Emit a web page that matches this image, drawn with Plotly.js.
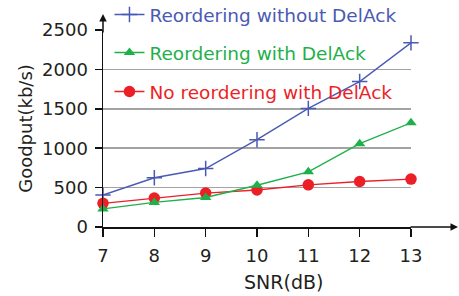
<!DOCTYPE html>
<html>
<head>
<meta charset="utf-8">
<script src="https://cdn.plot.ly/plotly-3.0.1.min.js"></script>
<style>html,body{margin:0;padding:0;background:#fff;}#chart{width:459px;height:296px;}</style>
</head>
<body>
<div id="chart"></div>
<script>
const snr = [7, 8, 9, 10, 11, 12, 13];
const reorderNoDelAck = [405, 625, 742, 1108, 1505, 1846, 2337];
const reorderDelAck = [230, 312, 375, 530, 700, 1057, 1322];
const noReorderDelAck = [300, 367, 430, 470, 535, 577, 608];
const yTicks = [0, 500, 1000, 1500, 2000, 2500];
const names = ["Reordering without DelAck", "Reordering with DelAck", "No reordering with DelAck"];

const BLUE = "#4a5ab3", GREEN = "#1fb04a", RED = "#ec1f27";
const FONT = "DejaVu Sans";

const traces = [
  {x: snr, y: reorderNoDelAck, name: names[0], mode: "lines+markers", legend: "legend",
   line: {color: BLUE, width: 1.4},
   marker: {symbol: "cross-thin", size: 11, line: {color: BLUE, width: 1.5}, color: BLUE},
   cliponaxis: false},
  {x: snr, y: noReorderDelAck, name: names[2], mode: "lines+markers", legend: "legend3",
   line: {color: RED, width: 1.4},
   marker: {symbol: "circle", size: 11.5, color: RED},
   cliponaxis: false},
  {x: snr, y: reorderDelAck, name: names[1], mode: "lines+markers", legend: "legend2",
   line: {color: GREEN, width: 1.4},
   marker: {symbol: "triangle-up", size: 10, color: GREEN},
   cliponaxis: false}
];

function leg(y, color) {
  return {x: 0.021, y: y, xanchor: "left", yanchor: "middle", bgcolor: "rgba(0,0,0,0)",
          borderwidth: 0, font: {family: FONT, size: 18.5, color: color}};
}

const layout = {
  width: 459, height: 296,
  margin: {l: 103, r: 48, t: 30, b: 69, autoexpand: false},
  paper_bgcolor: "#fff", plot_bgcolor: "#fff",
  font: {family: FONT, size: 18, color: "#231f20"},
  showlegend: true,
  legend: leg((227 - 15)/197, BLUE),
  legend2: leg((227 - 53)/197, GREEN),
  legend3: leg((227 - 92)/197, RED),
  xaxis: {
    range: [7, 13], tickvals: snr, ticktext: snr.map(String),
    showline: true, linecolor: "#111", linewidth: 1.5,
    ticks: "outside", ticklen: 8, tickwidth: 1.5, tickcolor: "#111",
    ticklabelstandoff: 4,
    showgrid: false, zeroline: false, fixedrange: true,
    tickfont: {family: FONT, size: 18, color: "#231f20"}
  },
  xaxis2: {
    overlaying: "x", matches: "x", range: [7, 13], tickvals: snr,
    showticklabels: false, ticks: "inside", ticklen: 4, tickwidth: 1.5, tickcolor: "#111",
    showgrid: false, zeroline: false, showline: false, side: "bottom"
  },
  yaxis: {
    range: [0, 2500], tickvals: yTicks, ticktext: yTicks.map(String),
    showline: true, linecolor: "#111", linewidth: 1.5,
    ticks: "outside", ticklen: 7, tickwidth: 1.5, tickcolor: "#111",
    ticklabelstandoff: 3,
    showgrid: true, gridcolor: "#a3a3a3", gridwidth: 1.5, zeroline: false,
    tickfont: {family: FONT, size: 18, color: "#231f20"},
    title: {text: "Goodput(kb/s)", font: {family: FONT, size: 18, color: "#231f20"}, standoff: 5}
  },
  annotations: [
    {xref: "paper", yref: "paper", x: 0, y: 1 + 16/197, ax: 0, ay: 20, axref: "pixel", ayref: "pixel",
     showarrow: true, arrowhead: 2, arrowsize: 1, arrowwidth: 1.5, arrowcolor: "#111", text: ""},
    {xref: "paper", yref: "paper", x: 1 + 47/308, y: 0, ax: -49, ay: 0, axref: "pixel", ayref: "pixel",
     showarrow: true, arrowhead: 2, arrowsize: 1, arrowwidth: 1.5, arrowcolor: "#111", text: ""},
    {xref: "paper", yref: "paper", x: (283 - 103)/308, y: -(282 - 227)/197, xanchor: "center", yanchor: "middle",
     showarrow: false, text: "SNR(dB)", font: {family: FONT, size: 19, color: "#231f20"}}
  ]
};

Plotly.newPlot("chart", traces, layout, {displayModeBar: false, staticPlot: true});
</script>
</body>
</html>
